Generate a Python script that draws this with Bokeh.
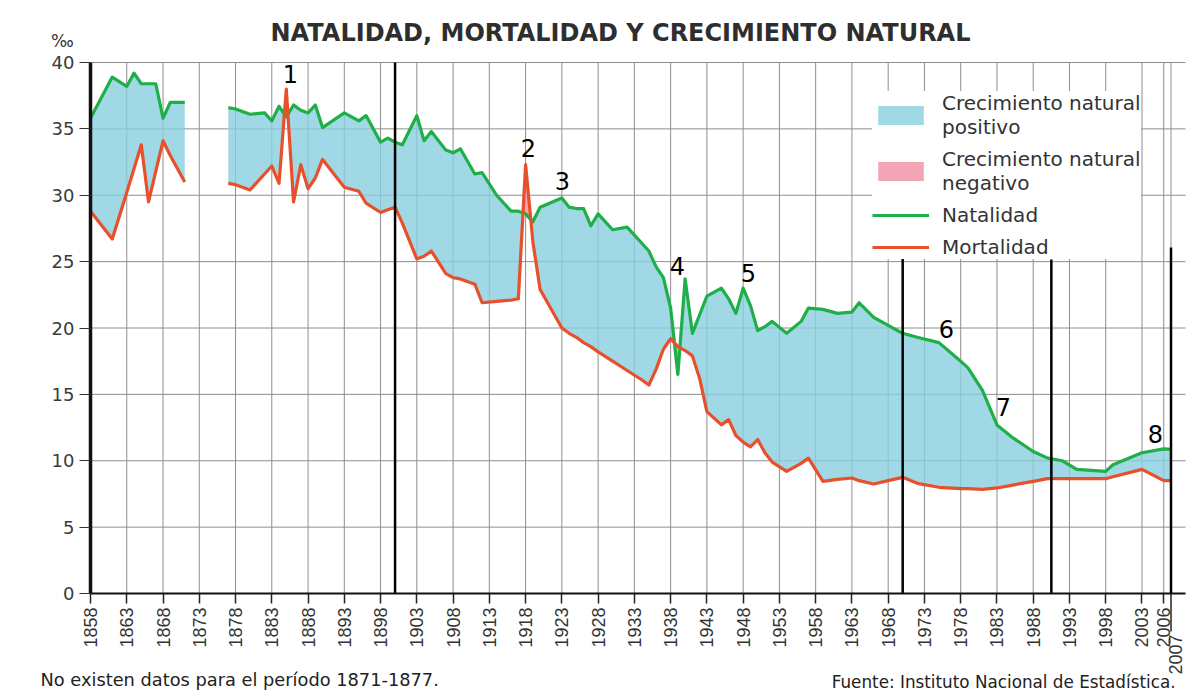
import numpy as np
from math import pi
from bokeh.plotting import figure
from bokeh.models import FixedTicker, Label, Legend, LegendItem, Range1d
from bokeh.embed import file_html
from bokeh.resources import INLINE

# ---------------- data (‰) ----------------
# Period 1: 1858-1871
years_a = [1858, 1861, 1863, 1864, 1865, 1866, 1867, 1868, 1869, 1871]
natalidad_a = [35.8, 38.9, 38.2, 39.2, 38.4, 38.4, 38.4, 35.8, 37.0, 37.0]
mortalidad_a = [28.8, 26.7, 30.2, 32.0, 33.8, 29.5, 31.8, 34.1, 33.0, 31.0]

# Period 2: 1877-2007
years_b = [1877, 1878, 1880, 1882, 1883, 1884, 1885, 1886, 1887, 1888, 1889,
           1890, 1893, 1895, 1896, 1898, 1899,
           1900, 1901, 1903, 1904, 1905, 1907, 1908, 1909,
           1911, 1912, 1914, 1916, 1917, 1918, 1919, 1920,
           1923, 1924, 1925, 1926, 1927, 1928, 1930,
           1932, 1934, 1935, 1936, 1937, 1938, 1939,
           1940, 1941, 1942, 1943, 1945, 1946, 1947, 1948, 1949,
           1950, 1951, 1952, 1954, 1956, 1957, 1959,
           1961, 1963, 1964, 1966, 1968, 1970,
           1972, 1975, 1978, 1979, 1981, 1983, 1985,
           1988, 1990, 1992, 1994, 1998, 1999, 2003, 2006, 2007]
natalidad_b = [36.6, 36.5, 36.1, 36.2, 35.6, 36.7, 35.9, 36.8, 36.4, 36.2, 36.8,
               35.1, 36.2, 35.6, 36.0, 34.0, 34.3,
               34.0, 33.8, 36.0, 34.1, 34.8, 33.4, 33.2, 33.5,
               31.6, 31.7, 30.0, 28.8, 28.8, 28.6, 28.0, 29.1,
               29.8, 29.1, 29.0, 29.0, 27.7, 28.6, 27.4,
               27.6, 26.4, 25.8, 24.6, 23.8, 21.5, 16.5,
               23.7, 19.6, 21.0, 22.4, 23.0, 22.2, 21.1, 23.0, 21.7,
               19.8, 20.1, 20.5, 19.6, 20.5, 21.5, 21.4,
               21.1, 21.2, 21.9, 20.8, 20.2, 19.6,
               19.3, 18.9, 17.5, 17.0, 15.3, 12.7, 11.8,
               10.7, 10.2, 10.0, 9.35, 9.2, 9.7, 10.6, 10.9, 10.85]
mortalidad_b = [30.9, 30.8, 30.4, 31.6, 32.2, 30.9, 38.0, 29.5, 32.3, 30.5, 31.3,
                32.7, 30.6, 30.3, 29.4, 28.7, 28.9,
                29.1, 27.9, 25.2, 25.4, 25.8, 24.1, 23.8, 23.7,
                23.3, 21.9, 22.0, 22.1, 22.2, 32.3, 26.5, 22.9,
                20.0, 19.6, 19.3, 18.9, 18.6, 18.2, 17.5,
                16.8, 16.1, 15.7, 16.9, 18.4, 19.2, 18.6,
                18.3, 17.9, 16.2, 13.7, 12.7, 13.1, 11.9, 11.4, 11.05,
                11.6, 10.6, 9.9, 9.2, 9.8, 10.2, 8.45,
                8.6, 8.7, 8.5, 8.25, 8.5, 8.75,
                8.3, 8.0, 7.9, 7.9, 7.85, 7.95, 8.15,
                8.45, 8.65, 8.65, 8.65, 8.65, 8.8, 9.35, 8.5, 8.5]

tick_years = list(range(1858, 2004, 5)) + [2006]
grid_years = list(range(1858, 2004, 5)) + [2006, 2007]
y_ticks = list(range(0, 41, 5))

event_labels = ["1", "2", "3", "4", "5", "6", "7", "8"]
phase_years = [1900, 1970, 1990.5, 2007]

# ---------------- layout constants (pixels) ----------------
W, H = 1198, 696
X_1858, X_2009 = 90, 1185      # canvas px of 1858 and 2009
Y_0, Y_40 = 593, 62            # canvas px of 0 and 40 ‰
KX = (X_2009 - X_1858) / (2009 - 1858)
KY = (Y_0 - Y_40) / 40.0


def dx(px):
    return 1858 + (px - X_1858) / KX


def dy(py):
    return (Y_0 - py) / KY


POS = "#88cede"
NEG = "#f2a0b2"
GREEN = "#1faf48"
RED = "#e8502b"
GRID = "#8e8e8e"


def with_crossings(xs, a, b):
    X, A, B = [xs[0]], [a[0]], [b[0]]
    for i in range(1, len(xs)):
        d0 = a[i - 1] - b[i - 1]
        d1 = a[i] - b[i]
        if d0 * d1 < 0:
            t = d0 / (d0 - d1)
            xc = xs[i - 1] + t * (xs[i] - xs[i - 1])
            yc = a[i - 1] + t * (a[i] - a[i - 1])
            X.append(xc); A.append(yc); B.append(yc)
        X.append(xs[i]); A.append(a[i]); B.append(b[i])
    return np.array(X), np.array(A), np.array(B)


p = figure(width=W, height=H,
           x_range=Range1d(dx(0), dx(W)), y_range=Range1d(dy(H), dy(0)),
           output_backend="svg", toolbar_location=None,
           min_border_left=0, min_border_right=0, min_border_top=0,
           min_border_bottom=0)
p.outline_line_color = None
p.background_fill_color = "white"
p.border_fill_color = "white"
p.xgrid.visible = False
p.ygrid.visible = False

# grid lines limited to the chart box
p.segment(x0=grid_years, y0=[0] * len(grid_years), x1=grid_years,
          y1=[40] * len(grid_years), line_color=GRID, line_width=1)
hy = y_ticks[1:]
p.segment(x0=[1858] * len(hy), y0=hy, x1=[2009] * len(hy), y1=hy,
          line_color=GRID, line_width=1)

# axes fixed at 0 and 1858
xa = p.xaxis[0]
xa.fixed_location = 0
xa.bounds = (1858, 2009)
xa.ticker = FixedTicker(ticks=tick_years)
xa.major_label_text_color = None      # year labels drawn below as text
xa.axis_line_color = "#111111"
xa.axis_line_width = 2
xa.major_tick_line_color = "#222222"
xa.major_tick_line_width = 1.5
xa.major_tick_out = 10
xa.major_tick_in = 0
xa.minor_tick_line_color = None

ya = p.yaxis[0]
ya.fixed_location = 1858
ya.bounds = (0, 40)
ya.ticker = FixedTicker(ticks=y_ticks)
ya.major_label_text_font = "DejaVu Sans"
ya.major_label_text_font_size = "18px"
ya.major_label_text_color = "#3a3a3a"
ya.major_label_standoff = 5
ya.axis_line_color = "#111111"
ya.axis_line_width = 3.5
ya.major_tick_line_color = "#333333"
ya.major_tick_line_width = 1.2
ya.major_tick_out = 11
ya.major_tick_in = 0
ya.minor_tick_line_color = None

# fills and lines
fill_r = []
for xs, nat, mort in [(years_a, natalidad_a, mortalidad_a),
                      (years_b, natalidad_b, mortalidad_b)]:
    X, A, B = with_crossings(xs, nat, mort)
    top = np.maximum(A, B)
    rp = p.varea(x=X, y1=B, y2=top, fill_color=POS, fill_alpha=0.8)
    rn = p.varea(x=X, y1=A, y2=top, fill_color=NEG, fill_alpha=0.95)
    fill_r.append((rp, rn))

nat_r = []
for xs, nat in [(years_a, natalidad_a), (years_b, natalidad_b)]:
    nat_r.append(p.line(xs, nat, line_color=GREEN, line_width=3.2, line_join="round"))
mor_r = []
for xs, mort in [(years_a, mortalidad_a), (years_b, mortalidad_b)]:
    mor_r.append(p.line(xs, mort, line_color=RED, line_width=3.2, line_join="round"))

# phase separators
phase_top = [40, dy(250), dy(259), dy(247)]
p.segment(x0=phase_years, y0=[0] * len(phase_years), x1=phase_years, y1=phase_top,
          line_color="black", line_width=2.5)

# legend
legend = Legend(items=[
    LegendItem(label="Crecimiento natural\npositivo", renderers=[fill_r[0][0]]),
    LegendItem(label="Crecimiento natural\nnegativo", renderers=[fill_r[0][1]]),
    LegendItem(label="Natalidad", renderers=[nat_r[0]]),
    LegendItem(label="Mortalidad", renderers=[mor_r[0]]),
], location=(872, H - 259))
legend.glyph_width = 57
legend.glyph_height = 24
legend.label_text_font = "DejaVu Sans"
legend.label_text_font_size = "20px"
legend.label_text_line_height = 1.1
legend.label_text_color = "#333333"
legend.label_standoff = 13
legend.spacing = 8
legend.padding = 14
legend.margin = 0
legend.border_line_color = None
legend.background_fill_color = "white"
legend.background_fill_alpha = 1
p.add_layout(legend)

# year labels (vertical, reading upward)
for yr in tick_years:
    p.add_layout(Label(x=yr, y=dy(607), text=str(yr), angle=pi / 2,
                       text_font="Liberation Sans", text_font_size="18px",
                       text_color="#333333", text_align="right", text_baseline="middle"))
# 2007: longer tick and lower label
p.segment(x0=[2007], y0=[0], x1=[2007], y1=[dy(631)], line_color="#222222", line_width=1.5)
p.add_layout(Label(x=dx(1175), y=dy(634), text="2007", angle=pi / 2,
                   text_font="Liberation Sans", text_font_size="18px",
                   text_color="#333333", text_align="right", text_baseline="middle"))

# texts
p.add_layout(Label(x=dx(620), y=dy(32), text="NATALIDAD, MORTALIDAD Y CRECIMIENTO NATURAL",
                   text_font="DejaVu Sans", text_font_style="bold",
                   text_font_size="24px", text_color="#2e2e2e",
                   text_align="center", text_baseline="middle"))
p.add_layout(Label(x=dx(62), y=dy(40), text="‰", text_font="DejaVu Sans",
                   text_font_size="17px", text_color="#333333",
                   text_align="center", text_baseline="middle"))
p.add_layout(Label(x=dx(40), y=dy(679), text="No existen datos para el período 1871-1877.",
                   text_font="DejaVu Sans", text_font_size="17.8px",
                   text_color="#222222", text_align="left", text_baseline="middle"))
p.add_layout(Label(x=dx(1175), y=dy(681), text="Fuente: Instituto Nacional de Estadística.",
                   text_font="DejaVu Sans", text_font_size="16.8px",
                   text_color="#222222", text_align="right", text_baseline="middle"))

# numbered marks
event_px = [(290, 73), (528, 147), (562, 180), (677, 265),
            (748, 272), (946, 328), (1003, 406), (1155, 433)]
for t, (ex, ey) in zip(event_labels, event_px):
    p.add_layout(Label(x=dx(ex), y=dy(ey), text=t, text_font="DejaVu Sans",
                       text_font_size="24px", text_color="black",
                       text_align="center", text_baseline="middle"))

open("out.html", "w").write(file_html(p, INLINE))
